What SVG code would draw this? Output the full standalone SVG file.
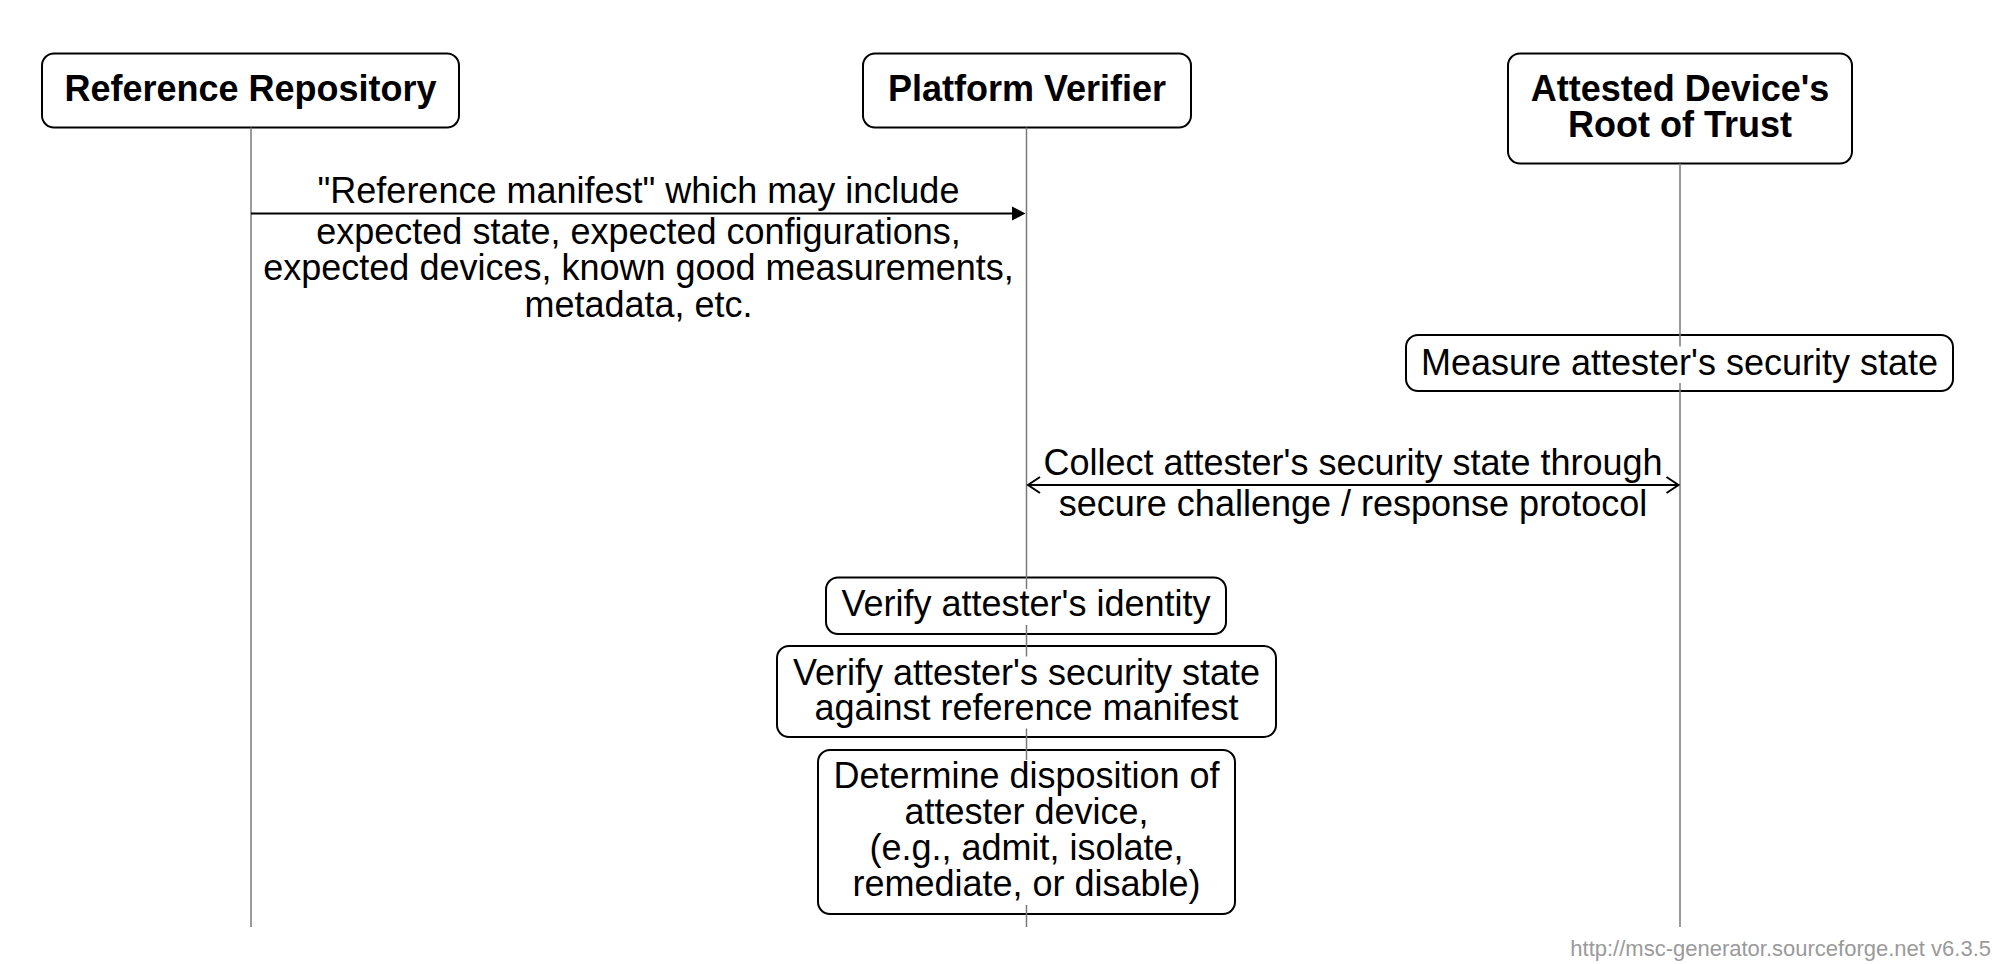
<svg xmlns="http://www.w3.org/2000/svg" width="1999" height="964" viewBox="0 0 1999 964">
<style>
  .box { fill: #ffffff; stroke: #000000; stroke-width: 2; }
  .life { stroke: #7a7a7a; stroke-width: 1.5; fill: none; }
  .band { fill: #ffffff; stroke: none; }
  .t { font-family: "Liberation Sans", Arial, Helvetica, sans-serif; font-size: 36px; fill: #000000; text-anchor: middle; }
  .tb { font-weight: bold; }
  .msg { stroke: #000000; stroke-width: 2; fill: none; }
  .foot { font-family: "Liberation Sans", Arial, Helvetica, sans-serif; font-size: 22px; fill: #9a9a9a; text-anchor: end; }
</style>
<rect width="1999" height="964" fill="#ffffff"/>

<g id="entity-reference-repository">
  <rect class="box" x="42" y="53.5" width="417" height="74" rx="12"/>
  <text class="t tb" x="250.5" y="101">Reference Repository</text>
</g>
<g id="entity-platform-verifier">
  <rect class="box" x="863" y="53.5" width="328" height="74" rx="12"/>
  <text class="t tb" x="1027" y="101">Platform Verifier</text>
</g>
<g id="entity-root-of-trust">
  <rect class="box" x="1508" y="53.5" width="344" height="110" rx="12"/>
  <text class="t tb" x="1680" y="100.5">Attested Device's</text>
  <text class="t tb" x="1680" y="136.5">Root of Trust</text>
</g>

<g id="note-boxes">
  <rect class="box" x="1406" y="335" width="547" height="56" rx="12"/>
  <rect class="box" x="826" y="577.5" width="400" height="56.5" rx="12"/>
  <rect class="box" x="777" y="646" width="499" height="91" rx="12"/>
  <rect class="box" x="818" y="750" width="417" height="164" rx="12"/>
</g>

<g id="lifelines">
  <line class="life" x1="251" y1="127.5" x2="251" y2="927"/>
  <line class="life" x1="1026.5" y1="127.5" x2="1026.5" y2="927"/>
  <line class="life" x1="1680" y1="163.5" x2="1680" y2="927"/>
</g>

<g id="connectors">
  <g id="msg-reference-manifest">
    <line class="msg" x1="251" y1="213.5" x2="1013" y2="213.5"/>
    <polygon points="1025.5,213.5 1012,206.5 1012,220.5" fill="#000000"/>
    <text class="t" x="638.5" y="202.5">"Reference manifest" which may include</text>
    <text class="t" x="638.5" y="243.5">expected state, expected configurations,</text>
    <text class="t" x="638.5" y="280">expected devices, known good measurements,</text>
    <text class="t" x="638.5" y="316.5">metadata, etc.</text>
  </g>
  <g id="msg-collect">
    <line class="msg" x1="1028" y1="485" x2="1678.5" y2="485"/>
    <polyline class="msg" points="1040,477 1028,485 1040,493"/>
    <polyline class="msg" points="1666.5,477 1678.5,485 1666.5,493"/>
    <text class="t" x="1353" y="474.5">Collect attester's security state through</text>
    <text class="t" x="1353" y="515.5">secure challenge / response protocol</text>
  </g>
</g>

<g id="note-measure">
  <rect class="band" x="1421" y="346.5" width="517" height="36.5"/>
  <text class="t" x="1679.5" y="374.5">Measure attester's security state</text>
</g>
<g id="note-verify-identity">
  <rect class="band" x="841" y="589" width="370" height="36"/>
  <text class="t" x="1026" y="616">Verify attester's identity</text>
</g>
<g id="note-verify-state">
  <rect class="band" x="792" y="656.5" width="469" height="72"/>
  <text class="t" x="1026.5" y="684.5">Verify attester's security state</text>
  <text class="t" x="1026.5" y="720">against reference manifest</text>
</g>
<g id="note-determine">
  <rect class="band" x="833" y="760" width="387" height="145"/>
  <text class="t" x="1026.5" y="788">Determine disposition of</text>
  <text class="t" x="1026.5" y="824">attester device,</text>
  <text class="t" x="1026.5" y="860">(e.g., admit, isolate,</text>
  <text class="t" x="1026.5" y="896">remediate, or disable)</text>
</g>

<text class="foot" x="1991" y="956">http://msc-generator.sourceforge.net v6.3.5</text>
</svg>
